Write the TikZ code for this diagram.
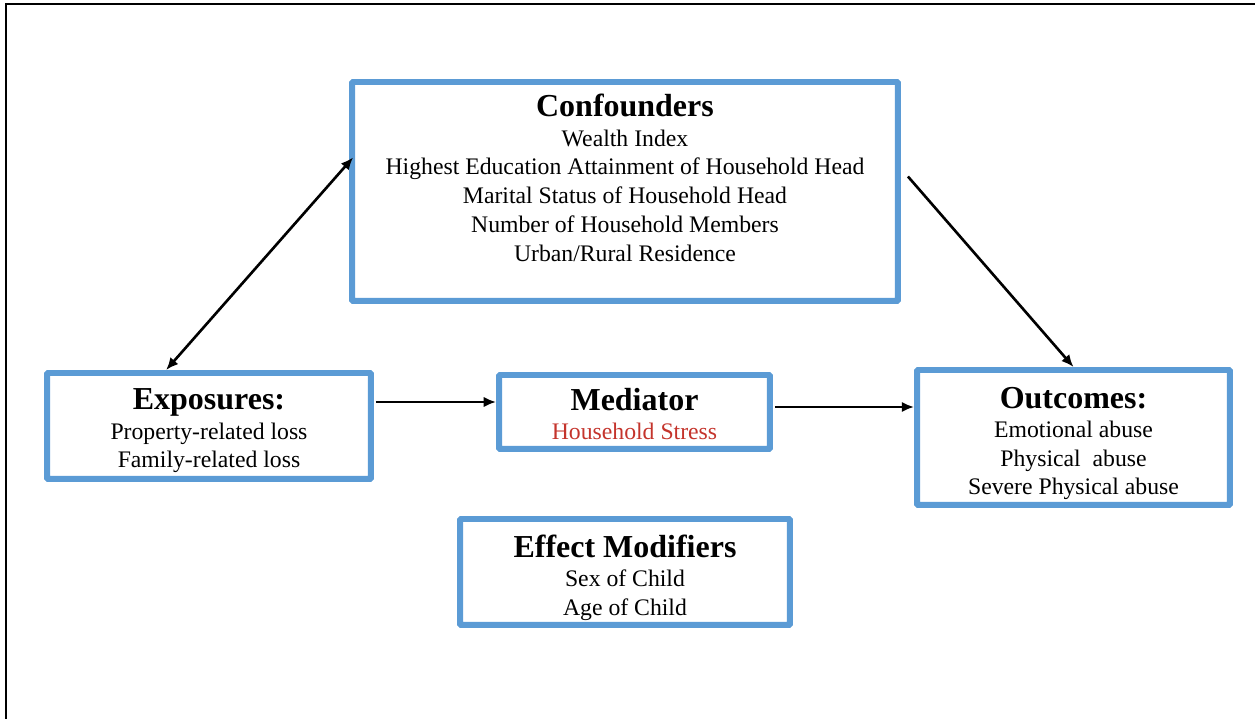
\documentclass[tikz,border=0pt]{standalone}
\usepackage{fontspec}
\setmainfont{Liberation Serif}
\usetikzlibrary{positioning, arrows.meta, calc}

\definecolor{boxblue}{RGB}{91,155,213}
\definecolor{stressred}{RGB}{196,52,44}

\newcommand{\boxtitle}[1]{{\fontsize{18.2}{20}\selectfont\bfseries #1}\\[0.2pt]}

\tikzset{
    factor/.style={draw=boxblue, line width=3.4pt, rounded corners=0.6pt},
    words/.style={align=center, inner sep=0pt, font=\fontsize{13.5}{16.4}\selectfont},
    link/.style={line width=1.5pt, -{Latex[length=7pt, width=6pt]}},
}

\begin{document}
\begin{tikzpicture}[x=0.02cm, y=0.02cm]
    \useasboundingbox (0,0) rectangle (1255,719);
    \coordinate (frame bl) at (6,0);
    \coordinate (frame tl) at (6,715);
    \coordinate (frame tr) at (1255,715);
    \draw[line width=1.6pt] (frame bl) -- (frame tl) -- (frame tr);

    % boxes
    \node[factor, minimum width=10.92cm, minimum height=4.38cm] (conf) at (625, 527.5) {};
    \node[factor, minimum width=6.48cm, minimum height=2.12cm] (expo) at (209, 293) {};
    \node[factor, minimum width=5.42cm, minimum height=1.48cm] (med) at (634.5, 307) {};
    \node[factor, minimum width=6.26cm, minimum height=2.70cm] (out) at (1073.5, 281.5) {};
    \node[factor, minimum width=6.60cm, minimum height=2.12cm] (mod) at (625, 147) {};

    % texts
    \node[words, anchor=north] (conftext) at ($(conf.north) + (0,-15)$)
        {\boxtitle{Confounders}Wealth Index\\ Highest Education Attainment of Household Head\\
         Marital Status of Household Head\\ Number of Household Members\\ Urban/Rural Residence};
    \node[words] (expotext) at ($(expo) + (0,-5)$)
        {\boxtitle{Exposures:}Property-related loss\\ Family-related loss};
    \node[words] (medtext) at ($(med) + (0,-2)$)
        {\boxtitle{Mediator}\textcolor{stressred}{Household Stress}};
    \node[words] (outtext) at ($(out) + (0,-6)$)
        {\boxtitle{Outcomes:}Emotional abuse\\ Physical~ abuse\\ Severe Physical abuse};
    \node[words] (modtext) at ($(mod) + (0,-6)$)
        {\boxtitle{Effect Modifiers}Sex of Child\\ Age of Child};

    \coordinate (expo out) at ($(expo.east) + (2,24)$);
    \coordinate (med out) at ($(med.east) + (2,5)$);

    \draw[link, {Latex[length=7pt, width=6pt]}-{Latex[length=7pt, width=6pt]}]
        ($(expo.north west)!0.37!(expo.north east)$) -- ($(conf.west) + (4,34)$);
    \draw[link] ($(conf.east) + (7,15)$) -- (out.north);
    \draw[link] (expo out) -- (expo out -| med.west);
    \draw[link] (med out) -- (med out -| out.west);
\end{tikzpicture}
\end{document}
